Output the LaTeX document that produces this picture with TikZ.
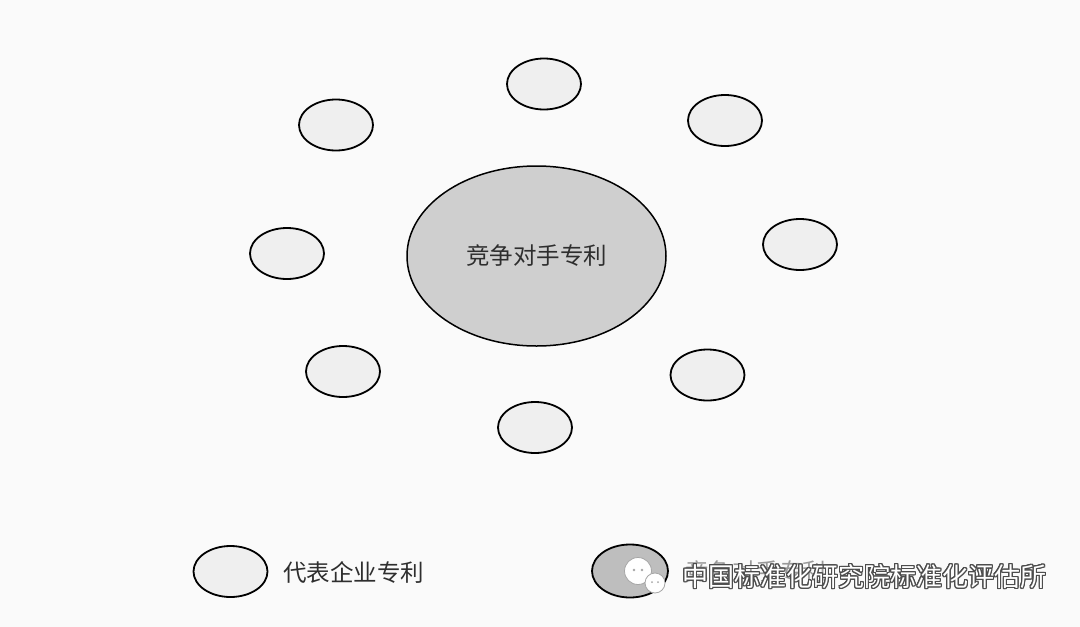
\documentclass[tikz,border=0pt]{standalone}
\usepackage{fontspec}
\newfontfamily\cjk{Noto Sans CJK SC}
\usepackage[copies]{contour}
\usetikzlibrary{shapes.geometric}
\definecolor{bgc}{HTML}{FAFAFA}
\definecolor{smallfill}{HTML}{EFEFEF}
\definecolor{bigfill}{HTML}{CFCFCF}
\definecolor{legfill}{HTML}{BEBEBE}
\definecolor{txt}{HTML}{2E2E2E}
\begin{document}
\begin{tikzpicture}[x=1pt,y=-1pt,
  smallell/.style={ellipse, draw=black, line width=1.8pt, fill=smallfill, minimum width=74pt, minimum height=51pt, inner sep=0pt},
  bigell/.style={ellipse, draw=black, line width=1.5pt, fill=bigfill, minimum width=259pt, minimum height=180pt, inner sep=0pt},
  lbl/.style={font=\cjk\fontsize{23.5}{24}\selectfont, text=txt, inner sep=0pt},
  bubble/.style={circle, draw=gray!70, line width=0.8pt, fill=white, inner sep=0pt}
]
\useasboundingbox (0,0) rectangle (1080,627);
\fill[bgc] (0,0) rectangle (1080,627);

\node[bigell] (c) at (536.5,256) {};
\node[lbl] (ctext) at (536.5,256) {竞争对手专利};

\node[smallell] (n1) at (544,84) {};
\node[smallell] (n2) at (725,120.5) {};
\node[smallell] (n3) at (800,244.5) {};
\node[smallell] (n4) at (707.5,375) {};
\node[smallell] (n5) at (535,427.5) {};
\node[smallell] (n6) at (343,371.5) {};
\node[smallell] (n7) at (287,253.5) {};
\node[smallell] (n8) at (336,125) {};

% legend
\node[smallell] (l1) at (230.5,571.5) {};
\node[lbl, anchor=west] (l1t) at (283,572) {代表企业专利};
\node[smallell, fill=legfill, minimum width=76pt, minimum height=53pt] (l2) at (630,571) {};
\node[lbl, anchor=west, text=gray!80] (l2t) at (685,572) {竞争对手专利};

% watermark
\node[bubble, minimum size=27pt] (wb1) at (638,571) {};
\node[bubble, minimum size=20pt] (wb2) at (655,583) {};
\fill[gray!70] ([xshift=-4pt,yshift=1pt]wb1.center) circle (1.3pt) ([xshift=4pt,yshift=1pt]wb1.center) circle (1.3pt);
\fill[gray!70] ([xshift=-3pt,yshift=1pt]wb2.center) circle (1pt) ([xshift=3pt,yshift=1pt]wb2.center) circle (1pt);
\contourlength{1.2pt}
\node[anchor=west, inner sep=0pt, font=\cjk\fontsize{26}{27}\selectfont] (wm) at (682,577) {\contour{gray!60!black}{\textcolor{white}{中国标准化研究院标准化评估所}}};
\end{tikzpicture}
\end{document}
